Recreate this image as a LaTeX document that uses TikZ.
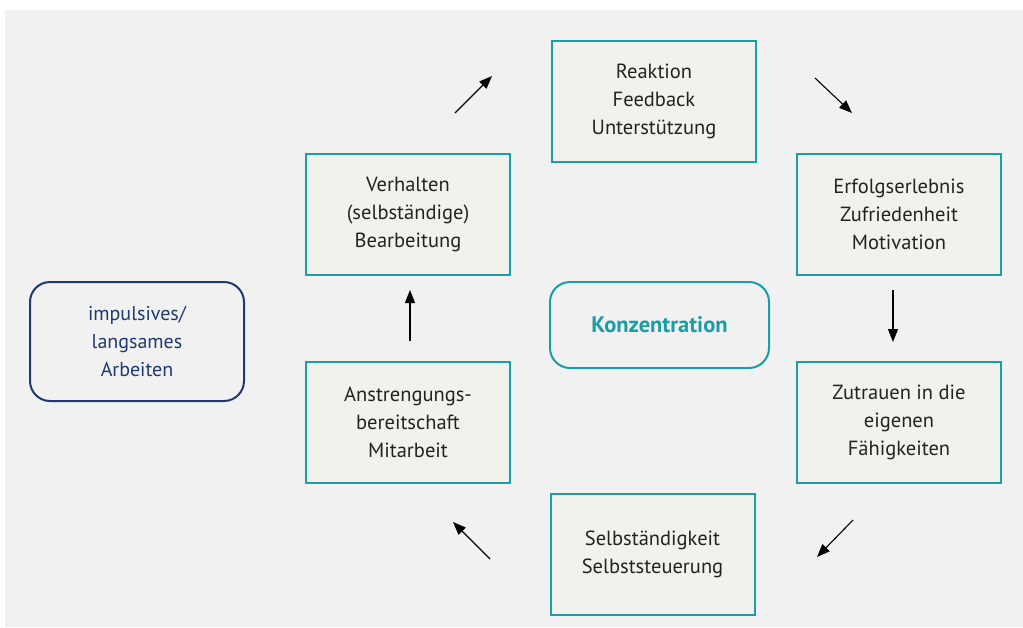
\documentclass[tikz,border=0pt]{standalone}
\usepackage{fontspec}
\setmainfont{PT Sans}
\usetikzlibrary{arrows.meta}
\definecolor{bg}{HTML}{F1F1F1}
\definecolor{boxfill}{HTML}{F2F2EC}
\definecolor{teal}{HTML}{1A9EA6}
\definecolor{navy}{HTML}{1F3A70}
\definecolor{txt}{HTML}{222222}
\tikzset{
  stepbox/.style={draw=teal, line width=2pt, fill=boxfill, minimum width=204pt, minimum height=121pt, inner sep=0pt, align=center, text=txt, font=\fontsize{20.5}{28}\selectfont},
  roundbox/.style={rounded corners=20pt, line width=2pt, fill=bg, inner sep=0pt, align=center, font=\fontsize{20}{28}\selectfont},
  arr/.style={line width=1.1pt, -{Triangle[length=13pt,width=10pt]}}
}
\begin{document}
\begin{tikzpicture}[x=1pt,y=-1pt]
\useasboundingbox (0,0) rectangle (1023,627);
\fill[white] (0,0) rectangle (1023,627);
\fill[bg] (5,10) rectangle (1023,627);
\node[stepbox] (reaktion) at (654,101.5) {Reaktion\\Feedback\\Unterstützung};
\node[stepbox] (verhalten) at (408,214.5) {Verhalten\\(selbständige)\\Bearbeitung};
\node[stepbox] (erfolg) at (899,214.5) {Erfolgserlebnis\\Zufriedenheit\\Motivation};
\node[stepbox] (anstr) at (408,422.5) {Anstrengungs-\\bereitschaft\\Mitarbeit};
\node[stepbox] (zutrauen) at (899,422.5) {Zutrauen in die\\eigenen\\Fähigkeiten};
\node[stepbox] (selbst) at (652.5,554) {Selbständigkeit\\Selbststeuerung};
\node[roundbox, draw=teal, text=teal, minimum width=219pt, minimum height=86pt, font=\fontsize{22.5}{28}\selectfont\bfseries] (konz) at (659.5,325) {Konzentration};
\node[roundbox, draw=navy, text=navy, minimum width=214pt, minimum height=119pt] (impuls) at (137,341.5) {impulsives/\\langsames\\Arbeiten};
\coordinate (a1s) at (455,113); \coordinate (a1e) at (492,76);
\coordinate (a2s) at (815,78); \coordinate (a2e) at (852,113);
\coordinate (a3s) at (893,290); \coordinate (a3e) at (893,342);
\coordinate (a4s) at (853,520); \coordinate (a4e) at (817,557);
\coordinate (a5s) at (490,559); \coordinate (a5e) at (453,522);
\coordinate (a6s) at (410,341); \coordinate (a6e) at (410,290);
\draw[arr] (a1s) -- (a1e);
\draw[arr] (a2s) -- (a2e);
\draw[arr] (a3s) -- (a3e);
\draw[arr] (a4s) -- (a4e);
\draw[arr] (a5s) -- (a5e);
\draw[arr] (a6s) -- (a6e);
\end{tikzpicture}
\end{document}
